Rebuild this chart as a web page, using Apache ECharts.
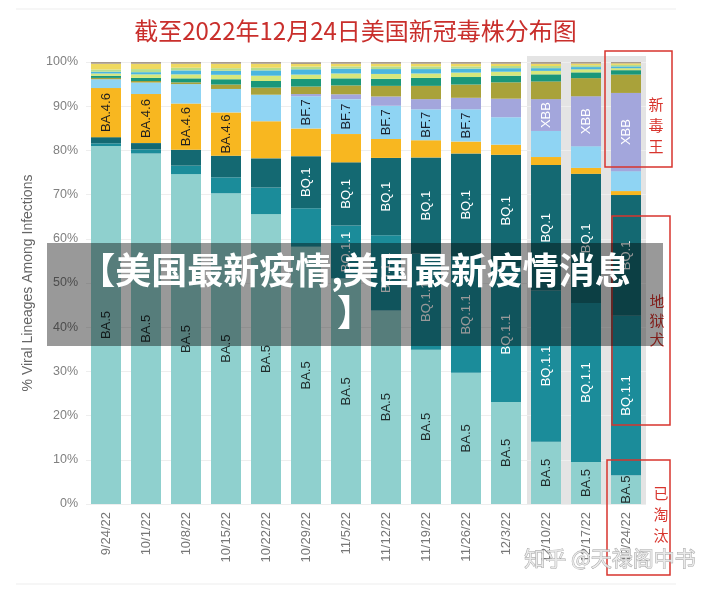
<!DOCTYPE html>
<html><head><meta charset="utf-8">
<script src="https://cdn.jsdelivr.net/npm/echarts@6/dist/echarts.min.js"></script>
<style>html,body{margin:0;padding:0;background:#fff}#c{width:711px;height:589px}</style>
</head><body><div id="c"></div>
<script>
const categories = ['9/24/22','10/1/22','10/8/22','10/15/22','10/22/22','10/29/22','11/5/22','11/12/22','11/19/22','11/26/22','12/3/22','12/10/22','12/17/22','12/24/22'];
const yTicks = [0,10,20,30,40,50,60,70,80,90,100];

const BA5      = [81.0, 79.3, 74.65, 70.3, 65.6, 58.2, 51.0, 43.8, 34.9, 29.7, 23.1, 14.1, 9.5, 6.5];
const BQ11     = [0.6, 0.9, 1.9, 3.6, 6.0, 8.7, 12.0, 17.0, 21.7, 26.4, 30.6, 34.2, 36.0, 36.1];
const BQ1      = [1.4, 1.45, 3.6, 4.9, 6.6, 11.8, 14.3, 17.5, 21.8, 23.2, 25.3, 28.4, 29.2, 27.3];
const BA46     = [11.1, 11.1, 10.45, 9.8, 8.4, 6.25, 6.4, 4.3, 3.9, 2.7, 2.3, 1.8, 1.35, 0.9];
const BF7      = [2.0, 2.6, 4.4, 5.3, 6.0, 7.3, 7.9, 7.5, 7.0, 7.3, 6.2, 5.9, 4.9, 4.5];
const XBB      = [0, 0, 0, 0, 0, 0.5, 1.1, 2.1, 2.3, 2.6, 4.2, 7.2, 11.3, 17.7];
const BA275    = [0.3, 0.35, 0.4, 1.0, 1.6, 1.7, 2.0, 2.4, 3.0, 3.0, 3.7, 4.0, 4.1, 4.15];
const BN1      = [0.5, 0.7, 0.9, 1.2, 1.5, 1.7, 1.6, 1.6, 1.8, 1.7, 1.5, 1.6, 1.3, 1.0];
const BA5261   = [0.5, 0.8, 0.9, 1.0, 1.2, 1.0, 1.1, 1.1, 1.0, 1.0, 0.9, 0.8, 0.7, 0.45];
const BA4_6_1  = [0.4, 0.5, 0.9, 0.9, 1.2, 1.2, 1.1, 1.1, 1.0, 0.9, 0.8, 0.6, 0.5, 0.4];
const BA5_2_6  = [0.5, 0.7, 0.6, 0.6, 0.6, 0.6, 0.5, 0.6, 0.6, 0.5, 0.5, 0.5, 0.4, 0.35];
const BA2_75_2 = [1.3, 1.2, 0.9, 1.0, 0.9, 0.6, 0.6, 0.6, 0.6, 0.6, 0.5, 0.5, 0.4, 0.35];
const OTHER    = [0.4, 0.4, 0.4, 0.4, 0.4, 0.4, 0.4, 0.4, 0.4, 0.4, 0.4, 0.4, 0.35, 0.3];

// which bars carry an in-bar label, by category index
const labelBA5  = [0,1,2,3,4,5,6,7,8,9,10,11,12,13];
const labelBQ11 = [6,7,8,9,10,11,12,13];
const labelBQ1  = [5,6,7,8,9,10,11,12,13];
const labelBA46 = [0,1,2,3];
const labelBF7  = [5,6,7,8,9];
const labelXBB  = [11,12,13];

const defs = [
  {name:'BA.5', data:BA5, color:'#8fd0ce', lc:'#1f2b2b', la:labelBA5},
  {name:'BQ.1.1', data:BQ11, color:'#1b8c9a', lc:'#ffffff', la:labelBQ11},
  {name:'BQ.1', data:BQ1, color:'#146972', lc:'#ffffff', la:labelBQ1},
  {name:'BA.4.6', data:BA46, color:'#f8b720', lc:'#1f1f1f', la:labelBA46},
  {name:'BF.7', data:BF7, color:'#8fd4f3', lc:'#1a2230', la:labelBF7},
  {name:'XBB', data:XBB, color:'#a3a6dc', lc:'#ffffff', la:labelXBB},
  {name:'BA.2.75', data:BA275, color:'#a9a23a', lc:'#fff', la:[]},
  {name:'BN.1', data:BN1, color:'#1a977a', lc:'#fff', la:[]},
  {name:'BA.5.2.6', data:BA5261, color:'#d6e77c', lc:'#fff', la:[]},
  {name:'BA.4.6.1', data:BA4_6_1, color:'#4ab6df', lc:'#fff', la:[]},
  {name:'BA.5.2.1', data:BA5_2_6, color:'#b6dd8e', lc:'#fff', la:[]},
  {name:'BA.2.75.2', data:BA2_75_2, color:'#efd960', lc:'#fff', la:[]},
  {name:'Other', data:OTHER, color:'#a79a8c', lc:'#fff', la:[]}
];

const chart = echarts.init(document.getElementById('c'));
const series = defs.map(d => ({
  name: d.name, type:'bar', stack:'total', barWidth: 30, data: d.data,
  itemStyle:{color:d.color},
  emphasis:{disabled:true},
  label:{
    show: d.la.length>0, position:'inside', rotate:90,
    fontFamily:'Liberation Sans, Arial, sans-serif', fontSize:13, color:d.lc,
    formatter: p => d.la.indexOf(p.dataIndex) >= 0 ? d.name : ''
  }
}));

chart.setOption({
  animation:false,
  backgroundColor:'#ffffff',
  title:{
    text:'截至2022年12月24日美国新冠毒株分布图', left:'center', top:14,
    padding:[5,5,5,14],
    textStyle:{fontFamily:'Noto Sans CJK SC', fontWeight:'normal', fontSize:24, color:'#c92f2c'}
  },
  grid:{left:86, right:65, top:62, bottom:85},
  xAxis:{
    type:'category', data:categories,
    axisLine:{show:false}, axisTick:{show:false},
    axisLabel:{rotate:90, margin:8, color:'#777', fontSize:13, fontFamily:'Liberation Sans, Arial, sans-serif'}
  },
  yAxis:{
    type:'value', min:yTicks[0], max:yTicks[yTicks.length-1], interval:10,
    name:'% Viral Lineages Among Infections', nameLocation:'middle', nameGap:50,
    nameTextStyle:{color:'#666', fontSize:14, fontFamily:'Liberation Sans, Arial, sans-serif'},
    axisLine:{show:false}, axisTick:{show:false},
    axisLabel:{formatter:'{value}%', color:'#808080', fontSize:12.5, margin:8, fontFamily:'Liberation Sans, Arial, sans-serif'},
    splitLine:{lineStyle:{color:'#eeeeee'}}
  },
  series: series
});

// annotations
const xL = chart.convertToPixel({xAxisIndex:0}, categories[11]) - 19;
const xR = chart.convertToPixel({xAxisIndex:0}, categories[13]) + 20;
const yTop = chart.convertToPixel({yAxisIndex:0}, 100) - 6;
const yBot = chart.convertToPixel({yAxisIndex:0}, 0) + 1;
const red = '#d8352e';
function vtext(chars, x, y0, step){
  return chars.split('').map((ch,i)=>({type:'text', x:x, y:y0+i*step, z:120,
    style:{text:ch, align:'center', verticalAlign:'middle', fontSize:15, fill:red, fontFamily:'Noto Sans CJK SC'}}));
}
chart.setOption({
  graphic:[
    {type:'line', z:-1, shape:{x1:16,y1:9,x2:676,y2:9}, style:{stroke:'#ededed', lineWidth:1}},
    {type:'line', z:-1, shape:{x1:16,y1:584,x2:676,y2:584}, style:{stroke:'#ededed', lineWidth:1}},
    {type:'rect', z:-1, shape:{x:xL, y:yTop, width:xR-xL, height:yBot-yTop}, style:{fill:'#e4e4e4'}},
    {type:'rect', z:110, shape:{x:605, y:51, width:67, height:116}, style:{fill:null, stroke:red, lineWidth:1.5}},
    {type:'rect', z:110, shape:{x:612, y:216, width:58, height:209}, style:{fill:null, stroke:red, lineWidth:1.5}},
    {type:'rect', z:110, shape:{x:607, y:460, width:63, height:115}, style:{fill:null, stroke:red, lineWidth:1.5}},
    ...vtext('新毒王', 656, 104, 21),
    ...vtext('地狱犬', 657, 301, 19),
    ...vtext('已淘汰', 661, 493, 21),
    {type:'text', x:610, y:558, z:130,
      style:{text:'知乎 @天禄阁中书', align:'center', verticalAlign:'middle', fontSize:21,
        fontFamily:'Noto Sans CJK SC', fill:'rgba(235,235,235,0.85)', stroke:'#a0a0a0', lineWidth:0.8}},
    {type:'rect', z:200, shape:{x:47, y:243, width:616, height:103}, style:{fill:'rgba(0,0,0,0.4)'}},
    {type:'text', x:355, y:291, z:210,
      style:{text:'【美国最新疫情,美国最新疫情消息\n】', align:'center', verticalAlign:'middle',
        fontSize:36, lineHeight:42, fontWeight:'bold', fill:'#ffffff', fontFamily:'Noto Sans CJK SC'}}
  ]
});
</script></body></html>
